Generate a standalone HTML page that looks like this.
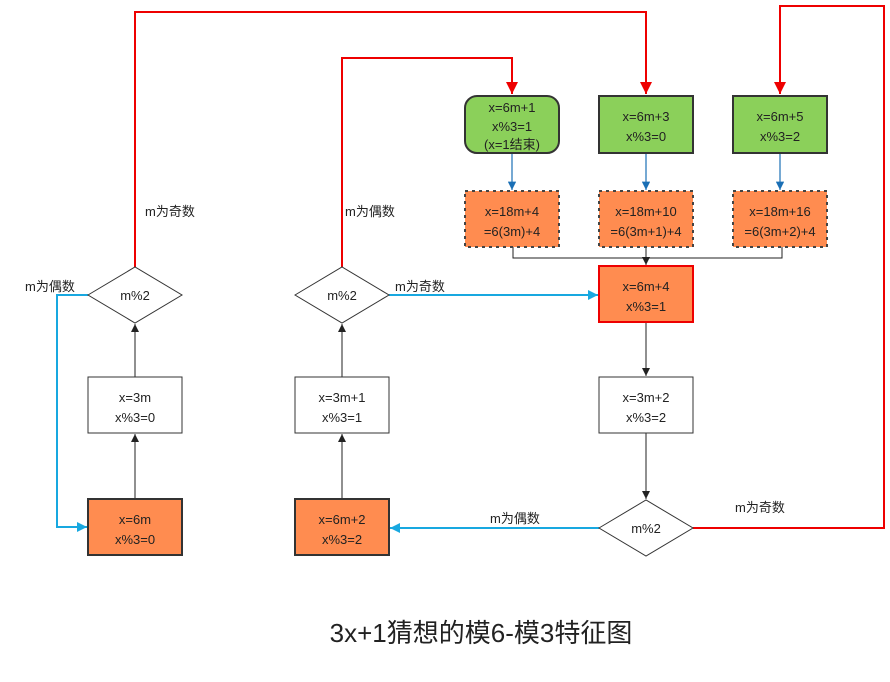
<!DOCTYPE html>
<html><head><meta charset="utf-8"><style>
body{margin:0;background:#fff;}
text{font-family:"Liberation Sans","Noto Sans CJK SC",sans-serif;font-size:13px;fill:#222;}
</style></head><body>
<svg width="890" height="677" viewBox="0 0 890 677" xmlns="http://www.w3.org/2000/svg">
<defs>
<marker id="ab" viewBox="0 0 10 10" refX="10" refY="5" markerWidth="8" markerHeight="8" orient="auto"><path d="M0,0L10,5L0,10z" fill="#222"/></marker>
<marker id="ar" viewBox="0 0 10 10" refX="10" refY="5" markerWidth="6" markerHeight="6" orient="auto"><path d="M0,0L10,5L0,10z" fill="#e00"/></marker>
<marker id="au" viewBox="0 0 10 10" refX="10" refY="5" markerWidth="7" markerHeight="7" orient="auto"><path d="M0,0L10,5L0,10z" fill="#1a6fb5"/></marker>
<marker id="ac" viewBox="0 0 10 10" refX="10" refY="5" markerWidth="5" markerHeight="5" orient="auto"><path d="M0,0L10,5L0,10z" fill="#18a8e0"/></marker>
</defs>
<g fill="none" stroke="#e00" stroke-width="2">
<path d="M135,267V12H646V94" marker-end="url(#ar)"/>
<path d="M342,267V58H512V94" marker-end="url(#ar)"/>
<path d="M693,528H884V6H780V94" marker-end="url(#ar)"/>
</g>
<g fill="none" stroke="#18a8e0" stroke-width="2">
<path d="M88,295H57V527H87" marker-end="url(#ac)"/>
<path d="M389,295H598" marker-end="url(#ac)"/>
<path d="M599,528H390" marker-end="url(#ac)"/>
</g>
<g fill="none" stroke="#1a6fb5" stroke-width="1.2">
<path d="M512,153V190" marker-end="url(#au)"/>
<path d="M646,153V190" marker-end="url(#au)"/>
<path d="M780,153V190" marker-end="url(#au)"/>
</g>
<g fill="none" stroke="#222" stroke-width="1">
<path d="M513,247V258H782V247"/>
<path d="M646,247V265" marker-end="url(#ab)"/>
<path d="M646,322V376" marker-end="url(#ab)"/>
<path d="M646,433V499" marker-end="url(#ab)"/>
<path d="M135,499V434" marker-end="url(#ab)"/>
<path d="M135,377V324" marker-end="url(#ab)"/>
<path d="M342,499V434" marker-end="url(#ab)"/>
<path d="M342,377V324" marker-end="url(#ab)"/>
</g>
<rect x="465" y="96" width="94" height="57" rx="12" fill="#8bd05a" stroke="#333" stroke-width="2"/>
<rect x="599" y="96" width="94" height="57" fill="#8bd05a" stroke="#333" stroke-width="2"/>
<rect x="733" y="96" width="94" height="57" fill="#8bd05a" stroke="#333" stroke-width="2"/>
<g fill="#ff8c50" stroke="#444" stroke-width="2" stroke-dasharray="3,4">
<rect x="465" y="191" width="94" height="56"/>
<rect x="599" y="191" width="94" height="56"/>
<rect x="733" y="191" width="94" height="56"/>
</g>
<rect x="599" y="266" width="94" height="56" fill="#ff8c50" stroke="#e00" stroke-width="2"/>
<g fill="#fff" stroke="#333" stroke-width="1">
<rect x="599" y="377" width="94" height="56"/>
<rect x="88" y="377" width="94" height="56"/>
<rect x="295" y="377" width="94" height="56"/>
<path d="M599,528L646,500L693,528L646,556z"/>
<path d="M88,295L135,267L182,295L135,323z"/>
<path d="M295,295L342,267L389,295L342,323z"/>
</g>
<rect x="88" y="499" width="94" height="56" fill="#ff8c50" stroke="#333" stroke-width="2"/>
<rect x="295" y="499" width="94" height="56" fill="#ff8c50" stroke="#333" stroke-width="2"/>
<g text-anchor="middle">
<text x="512" y="112">x=6m+1</text><text x="512" y="131">x%3=1</text><text x="512" y="149">(x=1结束)</text>
<text x="646" y="121">x=6m+3</text><text x="646" y="141">x%3=0</text>
<text x="780" y="121">x=6m+5</text><text x="780" y="141">x%3=2</text>
<text x="512" y="216">x=18m+4</text><text x="512" y="236">=6(3m)+4</text>
<text x="646" y="216">x=18m+10</text><text x="646" y="236">=6(3m+1)+4</text>
<text x="780" y="216">x=18m+16</text><text x="780" y="236">=6(3m+2)+4</text>
<text x="646" y="291">x=6m+4</text><text x="646" y="311">x%3=1</text>
<text x="646" y="402">x=3m+2</text><text x="646" y="422">x%3=2</text>
<text x="646" y="533">m%2</text>
<text x="135" y="300">m%2</text><text x="342" y="300">m%2</text>
<text x="135" y="402">x=3m</text><text x="135" y="422">x%3=0</text>
<text x="342" y="402">x=3m+1</text><text x="342" y="422">x%3=1</text>
<text x="135" y="524">x=6m</text><text x="135" y="544">x%3=0</text>
<text x="342" y="524">x=6m+2</text><text x="342" y="544">x%3=2</text>
<text x="481" y="642" style="font-size:26px">3x+1猜想的模6-模3特征图</text>
</g>
<text x="145" y="216">m为奇数</text>
<text x="345" y="216">m为偶数</text>
<text x="25" y="291">m为偶数</text>
<text x="395" y="291">m为奇数</text>
<text x="490" y="523">m为偶数</text>
<text x="735" y="512">m为奇数</text>
</svg>
</body></html>
